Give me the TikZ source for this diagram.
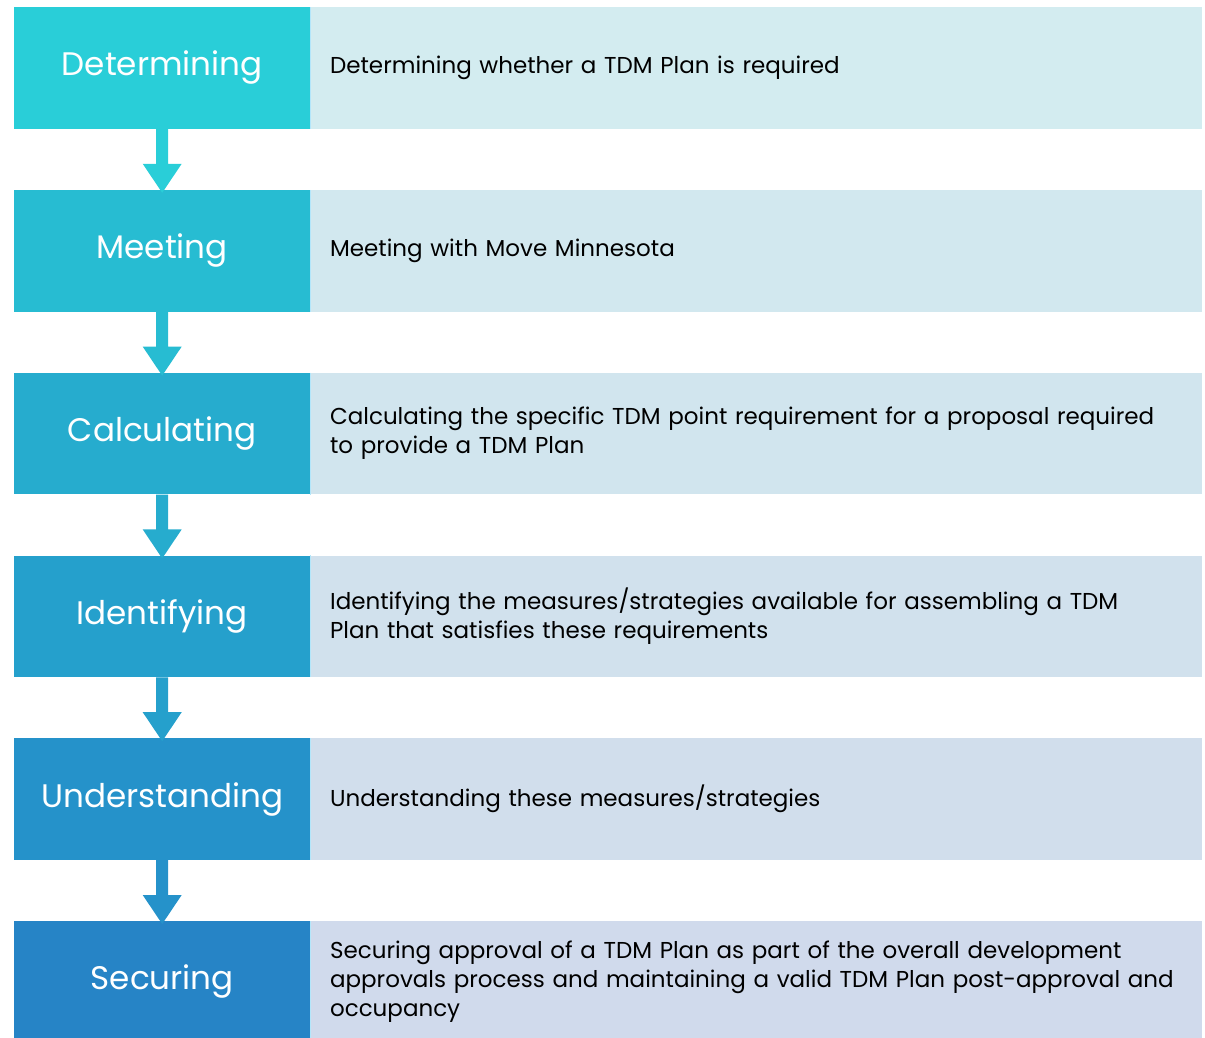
\documentclass[tikz,border=0pt]{standalone}
\usepackage{fontspec}
\setmainfont{Poppins}
\usetikzlibrary{positioning}

% step colours, light blue-green to deep blue
\definecolor{detcol}{RGB}{41,206,216}
\definecolor{meetcol}{RGB}{39,188,210}
\definecolor{calccol}{RGB}{38,172,206}
\definecolor{identcol}{RGB}{37,160,204}
\definecolor{undercol}{RGB}{37,146,202}
\definecolor{securcol}{RGB}{38,132,198}
% matching pale fills for the descriptions
\definecolor{detbg}{RGB}{211,236,240}
\definecolor{meetbg}{RGB}{210,232,239}
\definecolor{calcbg}{RGB}{209,229,238}
\definecolor{identbg}{RGB}{209,225,237}
\definecolor{underbg}{RGB}{209,222,236}
\definecolor{securbg}{RGB}{208,218,236}

\begin{document}
\begin{tikzpicture}[x=1pt, y=1pt,
    stepbox/.style={rectangle, minimum width=296pt, minimum height=121.5pt, inner sep=0pt,
        text=white, font=\fontsize{32.6}{38}\selectfont},
    infobox/.style={rectangle, minimum width=891pt, minimum height=121.5pt, text width=852pt,
        inner xsep=19.5pt, inner ysep=0pt, align=left, text=black,
        font=\fontsize{23}{29}\selectfont}]
    \useasboundingbox (0, 0) rectangle (1205, -1037);

    \node (determining) [stepbox, fill=detcol, anchor=north west] at (14, -7) {Determining};
    \node (meeting) [stepbox, fill=meetcol, below=60.9pt of determining] {Meeting};
    \node (calculating) [stepbox, fill=calccol, below=60.9pt of meeting] {Calculating};
    \node (identifying) [stepbox, fill=identcol, below=60.9pt of calculating] {Identifying};
    \node (understanding) [stepbox, fill=undercol, below=60.9pt of identifying] {Understanding};
    \node (securing) [stepbox, fill=securcol, below=60.9pt of understanding] {Securing};

    \node (detinfo) [infobox, fill=detbg, right=0pt of determining] {Determining whether a TDM Plan is required};
    \node (meetinfo) [infobox, fill=meetbg, right=0pt of meeting] {Meeting with Move Minnesota};
    \node (calcinfo) [infobox, fill=calcbg, right=0pt of calculating] {Calculating the specific TDM point requirement for a proposal required\\to provide a TDM Plan};
    \node (identinfo) [infobox, fill=identbg, right=0pt of identifying] {Identifying the measures/strategies available for assembling a TDM\\Plan that satisfies these requirements};
    \node (underinfo) [infobox, fill=underbg, right=0pt of understanding] {Understanding these measures/strategies};
    \node (securinfo) [infobox, fill=securbg, right=0pt of securing] {Securing approval of a TDM Plan as part of the overall development\\approvals process and maintaining a valid TDM Plan post-approval and\\occupancy};

    % thin light seam between step and description
    \foreach \s in {detinfo, meetinfo, calcinfo, identinfo, underinfo, securinfo}
        \draw [white!70!cyan, line width=1pt] (\s.north west) -- (\s.south west);

    % block arrows, each in the colour of the step above
    \foreach \a/\b/\c in {determining/meeting/detcol, meeting/calculating/meetcol,
        calculating/identifying/calccol, identifying/understanding/identcol,
        understanding/securing/undercol}
        \fill [\c] ([xshift=-6pt]\a.south) -- ([xshift=-6pt, yshift=26pt]\b.north)
            -- ([xshift=-19.5pt, yshift=26pt]\b.north) -- ([yshift=-3pt]\b.north)
            -- ([xshift=19.5pt, yshift=26pt]\b.north) -- ([xshift=6pt, yshift=26pt]\b.north)
            -- ([xshift=6pt]\a.south) -- cycle;
\end{tikzpicture}
\end{document}
